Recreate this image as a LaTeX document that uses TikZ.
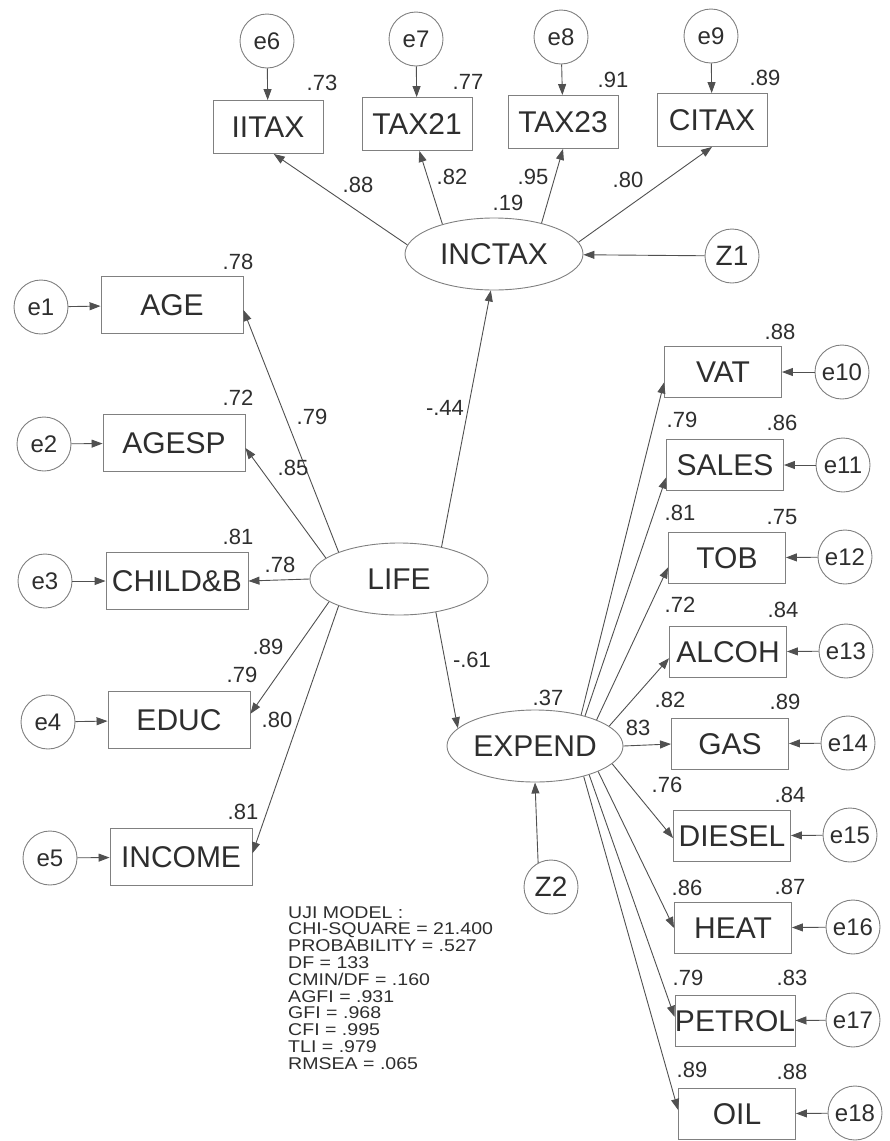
\documentclass[tikz,border=0pt]{standalone}
\usepackage{fontspec}
\setmainfont{Liberation Sans}
\usetikzlibrary{shapes.geometric, arrows.meta}
\definecolor{linegray}{HTML}{505050}
\definecolor{boxgray}{HTML}{808080}
\definecolor{textgray}{HTML}{2E2E2E}

\begin{document}
\begin{tikzpicture}[x=1pt, y=-1pt,
    obs/.style={rectangle, draw=boxgray, line width=0.9pt, inner sep=0pt, text=textgray, font=\fontsize{30}{30}\selectfont},
    topobs/.style={obs, minimum width=110pt, minimum height=53pt},
    leftobs/.style={obs, minimum width=142pt, minimum height=57pt},
    rightobs/.style={obs, minimum width=117pt, minimum height=51pt},
    lat/.style={ellipse, draw=boxgray, line width=0.9pt, inner sep=0pt, minimum width=178pt, minimum height=72pt, text=textgray, font=\fontsize{30}{30}\selectfont},
    err/.style={circle, draw=boxgray, line width=0.9pt, inner sep=0pt, minimum size=54pt, text=textgray, font=\fontsize{24}{24}\selectfont},
    disturb/.style={err, font=\fontsize{28}{28}\selectfont},
    num/.style={inner sep=0pt, text=textgray, font=\fontsize{22}{22}\selectfont},
    arrow/.style={-{Triangle[length=11pt, width=8pt]}, line width=0.9pt, linegray},
]
    \useasboundingbox (0,0) rectangle (890,1141);

    \node[lat] (inctax) at (494,254) {INCTAX};
    \node[lat] (life) at (399,579) {LIFE};
    \node[lat, minimum width=176pt] (expend) at (535,746) {EXPEND};

    \node[topobs] (iitax) at (268,127) {IITAX};
    \node[topobs] (tax21) at (417,124) {TAX21};
    \node[topobs] (tax23) at (563,122) {TAX23};
    \node[topobs] (citax) at (712,120) {CITAX};

    \node[leftobs] (age) at (172,305) {AGE};
    \node[leftobs] (agesp) at (174,443) {AGESP};
    \node[leftobs] (child) at (177,581) {CHILD\&B};
    \node[leftobs] (educ) at (179,720) {EDUC};
    \node[leftobs] (income) at (181,857) {INCOME};

    \node[rightobs] (vat) at (723,372) {VAT};
    \node[rightobs] (sales) at (725,465) {SALES};
    \node[rightobs] (tob) at (727,558) {TOB};
    \node[rightobs] (alcoh) at (728,652) {ALCOH};
    \node[rightobs] (gas) at (730,744) {GAS};
    \node[rightobs] (diesel) at (732,836) {DIESEL};
    \node[rightobs] (heat) at (733,928) {HEAT};
    \node[rightobs] (petrol) at (735,1021) {PETROL};
    \node[rightobs] (oil) at (737,1114) {OIL};

    \node[err] (e1) at (41,307) {e1};
    \node[err] (e2) at (44,444) {e2};
    \node[err] (e3) at (45,581) {e3};
    \node[err] (e4) at (48,722) {e4};
    \node[err] (e5) at (50,858) {e5};
    \node[err] (e6) at (267,41) {e6};
    \node[err] (e7) at (416,39) {e7};
    \node[err] (e8) at (561,37) {e8};
    \node[err] (e9) at (711,36) {e9};
    \node[err] (e10) at (842,372) {e10};
    \node[err] (e11) at (843,465) {e11};
    \node[err] (e12) at (845,557) {e12};
    \node[err] (e13) at (846,651) {e13};
    \node[err] (e14) at (848,743) {e14};
    \node[err] (e15) at (850,835) {e15};
    \node[err] (e16) at (853,927) {e16};
    \node[err] (e17) at (853,1020) {e17};
    \node[err] (e18) at (855,1113) {e18};
    \node[disturb] (z1) at (732,256) {Z1};
    \node[disturb] (z2) at (551,887) {Z2};

    \draw[arrow] (e1) -- (age);
    \draw[arrow] (e2) -- (agesp);
    \draw[arrow] (e3) -- (child);
    \draw[arrow] (e4) -- (educ);
    \draw[arrow] (e5) -- (income);
    \draw[arrow] (e6) -- (iitax);
    \draw[arrow] (e7) -- (tax21);
    \draw[arrow] (e8) -- (tax23);
    \draw[arrow] (e9) -- (citax);
    \draw[arrow] (e10) -- (vat);
    \draw[arrow] (e11) -- (sales);
    \draw[arrow] (e12) -- (tob);
    \draw[arrow] (e13) -- (alcoh);
    \draw[arrow] (e14) -- (gas);
    \draw[arrow] (e15) -- (diesel);
    \draw[arrow] (e16) -- (heat);
    \draw[arrow] (e17) -- (petrol);
    \draw[arrow] (e18) -- (oil);
    \draw[arrow] (z1) -- (inctax);
    \draw[arrow] (z2.118) -- (expend.south);

    \draw[arrow] (inctax.174) -- (iitax.-78);
    \draw[arrow] (inctax.150) -- (tax21.-85);
    \draw[arrow] (inctax.33) -- (tax23.south);
    \draw[arrow] (inctax.8) -- (citax.south);

    \draw[arrow] (life.156) -- (age.-4);
    \draw[arrow] (life.164) -- (agesp.-4);
    \draw[arrow] (life.180) -- (child.east);
    \draw[arrow] (life.198) -- (educ.5);
    \draw[arrow] (life.204) -- (income.3);
    \draw[arrow] (life.37) -- (inctax.265);
    \draw[arrow] (life.-42) -- (expend.167);

    \draw[arrow] (expend.34) -- (vat.190);
    \draw[arrow] (expend.31) -- (sales.192);
    \draw[arrow] (expend.23) -- (tob.189);
    \draw[arrow] (expend.15) -- (alcoh.186);
    \draw[arrow] (expend.0) -- (gas.west);
    \draw[arrow] (expend.-13) -- (diesel.182);
    \draw[arrow] (expend.-22) -- (heat.west);
    \draw[arrow] (expend.-28) -- (petrol.176);
    \draw[arrow] (expend.-32) -- (oil.176);

    \node[num] (r-iitax) at (322,83) {.73};
    \node[num] (r-tax21) at (468,82) {.77};
    \node[num] (r-tax23) at (613,80) {.91};
    \node[num] (r-citax) at (765,78) {.89};
    \node[num] (w-iitax) at (358,185) {.88};
    \node[num] (w-tax21) at (452,177) {.82};
    \node[num] (w-tax23) at (533,177) {.95};
    \node[num] (r-inctax) at (508,203) {.19};
    \node[num] (w-citax) at (628,180) {.80};

    \node[num] (r-age) at (238,262) {.78};
    \node[num] (r-agesp) at (238,398) {.72};
    \node[num] (r-child) at (238,537) {.81};
    \node[num] (r-educ) at (242,675) {.79};
    \node[num] (r-income) at (243,812) {.81};
    \node[num] (w-age) at (312,417) {.79};
    \node[num] (w-agesp) at (293,468) {.85};
    \node[num] (w-child) at (280,565) {.78};
    \node[num] (w-educ) at (268,647) {.89};
    \node[num] (w-income) at (277,720) {.80};

    \node[num] (w-inctax) at (445,408) {-.44};
    \node[num] (w-expend) at (472,660) {-.61};
    \node[num] (r-expend) at (548,698) {.37};

    \node[num] (r-vat) at (780,332) {.88};
    \node[num] (w-vat) at (682,420) {.79};
    \node[num] (r-sales) at (782,423) {.86};
    \node[num] (w-sales) at (680,513) {.81};
    \node[num] (r-tob) at (782,517) {.75};
    \node[num] (w-tob) at (680,605) {.72};
    \node[num] (r-alcoh) at (783,610) {.84};
    \node[num] (w-alcoh) at (670,700) {.82};
    \node[num] (r-gas) at (785,702) {.89};
    \node[num] (w-gas) at (638,728) {83};
    \node[num] (w-diesel) at (667,785) {.76};
    \node[num] (r-diesel) at (790,795) {.84};
    \node[num] (w-heat) at (687,888) {.86};
    \node[num] (r-heat) at (790,887) {.87};
    \node[num] (w-petrol) at (688,978) {.79};
    \node[num] (r-petrol) at (792,978) {.83};
    \node[num] (w-oil) at (692,1070) {.89};
    \node[num] (r-oil) at (792,1072) {.88};

    \node[inner sep=0pt, anchor=north west, align=left, text=textgray, xscale=1.15, transform shape, font=\fontsize{17}{16.8}\selectfont] (fit) at (288,906) {UJI MODEL :\\CHI-SQUARE = 21.400\\PROBABILITY = .527\\DF = 133\\CMIN/DF = .160\\AGFI = .931\\GFI = .968\\CFI = .995\\TLI = .979\\RMSEA = .065};
\end{tikzpicture}
\end{document}
